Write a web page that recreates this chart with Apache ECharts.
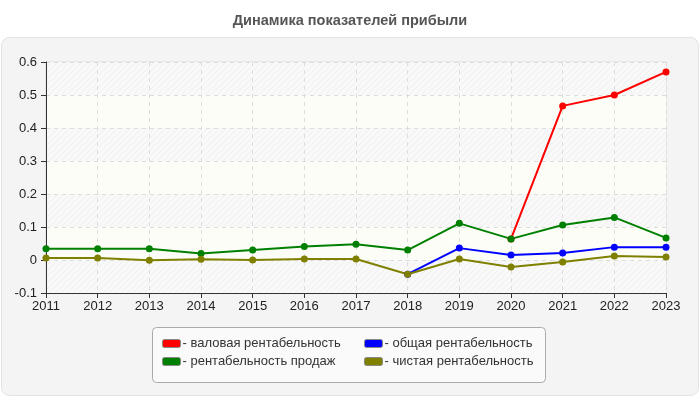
<!DOCTYPE html>
<html>
<head>
<meta charset="utf-8">
<script src="https://cdn.jsdelivr.net/npm/echarts@6/dist/echarts.min.js"></script>
<style>
  html, body { margin: 0; padding: 0; background: #fff; }
  #chart { width: 700px; height: 400px; }
</style>
</head>
<body>
<div id="chart"></div>
<script>
// годы
var years = ["2011", "2012", "2013", "2014", "2015", "2016", "2017", "2018", "2019", "2020", "2021", "2022", "2023"];

// показатели (доли)
var valovaya = [null, null, null, null, null, null, null, null, null, 0.064, 0.467, 0.5, 0.57];
var obshaya = [null, null, null, null, null, null, null, -0.043, 0.036, 0.015, 0.021, 0.039, 0.039];
var prodazh = [0.034, 0.034, 0.034, 0.02, 0.03, 0.041, 0.048, 0.03, 0.111, 0.064, 0.106, 0.129, 0.067];
var chistaya = [0.006, 0.006, -0.001, 0.002, 0.0, 0.003, 0.003, -0.043, 0.003, -0.021, -0.006, 0.012, 0.009];

var names = ["валовая рентабельность", "общая рентабельность", "рентабельность продаж", "чистая рентабельность"];
var colors = ["#ff0000", "#0000ff", "#008000", "#808000"];

// штриховка для полос фона
function makeHatch() {
  var c = document.createElement("canvas");
  c.width = 6;
  c.height = 6;
  var ctx = c.getContext("2d");
  ctx.fillStyle = "#f9f9f9";
  ctx.fillRect(0, 0, 6, 6);
  ctx.strokeStyle = "#efefef";
  ctx.lineWidth = 1;
  ctx.beginPath();
  ctx.moveTo(0, 6);
  ctx.lineTo(6, 0);
  ctx.moveTo(-1, 1);
  ctx.lineTo(1, -1);
  ctx.moveTo(5, 7);
  ctx.lineTo(7, 5);
  ctx.stroke();
  return c;
}

var fontName = "Liberation Sans";

function makeSeries(i, values) {
  return {
    name: names[i],
    type: "line",
    data: values,
    symbol: "circle",
    symbolSize: 7,
    showSymbol: true,
    lineStyle: { width: 2, color: colors[i] },
    itemStyle: { color: colors[i] },
    emphasis: { disabled: true },
    animation: false
  };
}

function makeLegend(items, left) {
  return {
    data: items,
    orient: "vertical",
    left: left,
    top: 332,
    itemWidth: 18,
    itemHeight: 8,
    itemGap: 5,
    icon: "roundRect",
    itemStyle: { borderColor: "#888888", borderWidth: 1 },
    formatter: function (n) { return "- " + n; },
    textStyle: { fontSize: 13, color: "#333333", fontFamily: fontName, padding: [0, 0, 0, -3] },
    selectedMode: false
  };
}

var option = {
  backgroundColor: "#ffffff",
  textStyle: { fontFamily: fontName },
  title: {
    text: "Динамика показателей прибыли",
    left: "center",
    top: 8,
    textStyle: { fontSize: 14.5, fontWeight: "bold", color: "#555555", fontFamily: fontName }
  },
  graphic: [
    {
      type: "rect",
      z: -10,
      shape: { x: 1.5, y: 37.5, width: 697, height: 358, r: 8 },
      style: { fill: "#f4f4f4", stroke: "#e2e2e2", lineWidth: 1 }
    },
    {
      type: "rect",
      z: -5,
      shape: { x: 152.5, y: 327.5, width: 393, height: 55, r: 4 },
      style: { fill: "#fafafa", stroke: "#aaaaaa", lineWidth: 1 }
    }
  ],
  legend: [
    makeLegend([names[0], names[2]], 157),
    makeLegend([names[1], names[3]], 359)
  ],
  grid: {
    left: 46,
    right: 34,
    top: 62,
    bottom: 107,
    show: true,
    borderColor: "#dddddd",
    borderWidth: 1,
    backgroundColor: "transparent"
  },
  xAxis: {
    type: "category",
    data: years,
    boundaryGap: false,
    axisLine: { onZero: false, lineStyle: { color: "#333333", width: 1 } },
    axisTick: { show: true, length: 5, alignWithLabel: true, lineStyle: { color: "#333333" } },
    axisLabel: { fontSize: 13, color: "#222222", margin: 7, interval: 0 },
    splitLine: { show: true, lineStyle: { color: "#dddddd", type: [4, 4] } }
  },
  yAxis: {
    type: "value",
    min: -0.1,
    max: 0.6,
    interval: 0.1,
    axisLine: { show: true, lineStyle: { color: "#333333", width: 1 } },
    axisTick: { show: true, length: 5, lineStyle: { color: "#333333" } },
    axisLabel: {
      fontSize: 13,
      color: "#222222",
      margin: 9,
      formatter: function (v) { return String(Math.round(v * 10) / 10); }
    },
    splitLine: { show: true, lineStyle: { color: "#dddddd", type: [4, 4] } },
    splitArea: {
      show: true,
      areaStyle: {
        color: [
          { image: makeHatch(), repeat: "repeat" },
          "#fcfdf6"
        ]
      }
    }
  },
  series: [
    makeSeries(0, valovaya),
    makeSeries(1, obshaya),
    makeSeries(2, prodazh),
    makeSeries(3, chistaya)
  ]
};

var myChart = echarts.init(document.getElementById("chart"), null, { renderer: "canvas" });
myChart.setOption(option);
</script>
</body>
</html>
